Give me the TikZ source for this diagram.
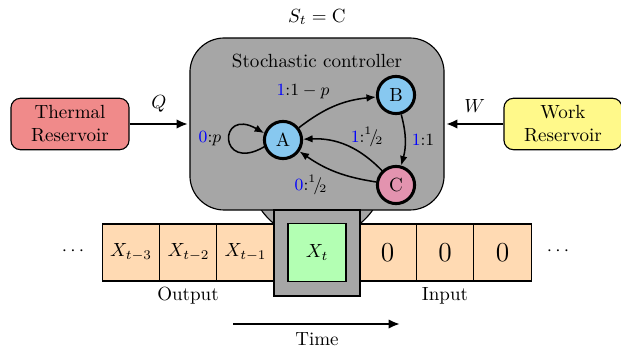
\documentclass[tikz,border=0pt]{standalone}
\usetikzlibrary{arrows.meta}
\definecolor{ctrlgray}{HTML}{A6A6A6}
\definecolor{tapeor}{HTML}{FFDAB3}
\definecolor{headgreen}{HTML}{B3FFB3}
\definecolor{stateblue}{HTML}{87C8F0}
\definecolor{statepink}{HTML}{E393AF}
\definecolor{thermred}{HTML}{F08A8A}
\definecolor{workyel}{HTML}{FFF98A}
\newcommand{\hf}{\ensuremath{{}^{1}\!/\!{}_{2}}}
\begin{document}
\begin{tikzpicture}[x=0.525pt, y=-0.525pt,
  cell/.style={draw, semithick, fill=tapeor, minimum width=30.1pt, minimum height=29.9pt, inner sep=0pt},
  state/.style={circle, draw, ultra thick, minimum size=19.5pt, inner sep=0pt},
  trans/.style={thick, -{Latex[length=5pt,width=4pt]}},
  flow/.style={line width=1.3pt, -{Latex[length=6pt,width=5pt]}},
  reservoir/.style={draw, semithick, rounded corners=5pt, minimum width=62pt, minimum height=27pt, align=center, inner sep=1pt},
  lbl/.style={font=\small, inner sep=1pt}
]
\useasboundingbox (0,0) rectangle (621,347);

% funnel behind
\draw[semithick, fill=ctrlgray] (317,171) circle[radius=35.7pt];

% controller
\node[draw, semithick, fill=ctrlgray, rounded corners=18pt, minimum width=133.4pt, minimum height=90.3pt] (ctrl) at (317,124) {};
\node (title) at (317,61) {Stochastic controller};
\node (St) at (317,17) {$S_t = \mathrm{C}$};

% tape
\node[cell] (c1) at (131,252.5) {$X_{t-3}$};
\node[cell] (c2) at (188.5,252.5) {$X_{t-2}$};
\node[cell] (c3) at (245.5,252.5) {$X_{t-1}$};
\node[cell] (c5) at (387.5,252.5) {\Large $0$};
\node[cell] (c6) at (445,252.5) {\Large $0$};
\node[cell] (c7) at (502.5,252.5) {\Large $0$};
\node (dl) at (73,251) {$\cdots$};
\node (dr) at (558,251) {$\cdots$};

% head
\node[draw, semithick, fill=ctrlgray, minimum size=45.2pt, inner sep=0pt] (head) at (317,253) {};
\node[draw, semithick, fill=headgreen, minimum size=30.5pt, inner sep=0pt] (cur) at (317,252.5) {$X_t$};

\node (out) at (188,296) {Output};
\node (in) at (445,296) {Input};

% time
\coordinate (t0) at (233,324);
\coordinate (t1) at (400,324);
\draw[flow, line width=1.2pt] (t0) -- (t1);
\node (time) at (317,339) {Time};

% reservoirs
\node[reservoir, fill=thermred] (therm) at (70,124) {Thermal\\Reservoir};
\node[reservoir, fill=workyel] (work) at (563,124) {Work\\Reservoir};
\coordinate (qend) at (188,124);
\coordinate (wend) at (446,124);
\draw[flow] (therm) -- node[above=2pt] {$Q$} (qend);
\draw[flow] (work) -- node[above=2pt] {$W$} (wend);

% states
\node[state, fill=stateblue] (A) at (283,140) {A};
\node[state, fill=stateblue] (B) at (396,95) {B};
\node[state, fill=statepink] (C) at (396,185) {C};

\draw[trans] (A) to[bend left=16] (B);
\draw[trans] (B) to[bend left=15] (C);
\draw[trans] (C) to[bend right=24] (A);
\draw[trans] (C) to[bend left=13] (A);
\draw[trans] (A.200) .. controls +(210:28pt) and +(150:28pt) .. (A.160);

\node[lbl] (lab) at (303,92) {$\textcolor{blue}{1}{:}1-p$};
\node[lbl] (lbc) at (423,140) {$\textcolor{blue}{1}{:}1$};
\node[lbl] (lca1) at (367,137) {$\textcolor{blue}{1}{:}\hf$};
\node[lbl] (lca0) at (311,185) {$\textcolor{blue}{0}{:}\hf$};
\node[lbl] (laa) at (210,139) {$\textcolor{blue}{0}{:}p$};
\end{tikzpicture}
\end{document}
